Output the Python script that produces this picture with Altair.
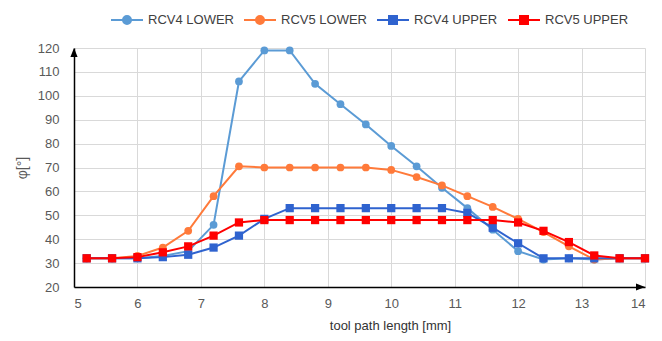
import altair as alt
import pandas as pd

# ---------------- data ----------------
x_vals = [5.2, 5.6, 6.0, 6.4, 6.8, 7.2, 7.6, 8.0, 8.4, 8.8, 9.2, 9.6, 10.0,
          10.4, 10.8, 11.2, 11.6, 12.0, 12.4, 12.8, 13.2, 13.6, 14.0]
rcv4_lower = [32, 32, 32, 33, 35, 46, 106, 119, 119, 105, 96.5, 88, 79,
              70.5, 61.5, 53, 44, 35, 31.5, 32, 31.5, 32, 32]
rcv5_lower = [32, 32, 33, 36.5, 43.5, 58, 70.5, 70, 70, 70, 70, 70, 69,
              66, 62.5, 58, 53.5, 48.5, 43, 37, 31.5, 32, 32]
rcv4_upper = [32, 32, 32, 32.5, 33.5, 36.5, 41.5, 48.5, 53, 53, 53, 53, 53,
              53, 53, 51, 44.8, 38.3, 32, 32, 32, 32, 32]
rcv5_upper = [32, 32, 32.5, 34.5, 37, 41.5, 47, 48, 48, 48, 48, 48, 48,
              48, 48, 48, 48, 47, 43.5, 38.8, 33.2, 32, 32]

series_names = ["RCV4 LOWER", "RCV5 LOWER", "RCV4 UPPER", "RCV5 UPPER"]
series_values = [rcv4_lower, rcv5_lower, rcv4_upper, rcv5_upper]
series_colors = ["#5B9BD5", "#FF7A3A", "#2F63CF", "#FF0000"]
series_shapes = ["circle", "circle", "square", "square"]
x_ticks = [5, 6, 7, 8, 9, 10, 11, 12, 13, 14]
y_ticks = [20, 30, 40, 50, 60, 70, 80, 90, 100, 110, 120]

LINE_CIRCLE = "M-1,0H1M-0.25,0A0.25,0.25,0,1,1,0.25,0A0.25,0.25,0,1,1,-0.25,0Z"
LINE_SQUARE = "M-1,0H1M-0.25,-0.25H0.25V0.25H-0.25Z"
legend_paths = [LINE_CIRCLE, LINE_CIRCLE, LINE_SQUARE, LINE_SQUARE]

rows = []
for name, vals in zip(series_names, series_values):
    for xv, yv in zip(x_vals, vals):
        rows.append({"x": xv, "y": yv, "series": name})
df = pd.DataFrame(rows)

FONT = "Liberation Sans"
W, H = 571, 239

xscale = alt.Scale(domain=[5, 14], nice=False, zero=False)
yscale = alt.Scale(domain=[20, 120], nice=False, zero=False)

xaxis = alt.Axis(values=x_ticks, ticks=False, labelPadding=10, labelFontSize=13,
                 labelColor="#595959", labelFont=FONT, grid=True, gridColor="#D9D9D9",
                 domainColor="#000000", domainWidth=1.5,
                 title="tool path length [mm]", titleFont=FONT, titleFontSize=13,
                 titleFontWeight="normal", titleColor="#333333", titlePadding=9,
                 titleX=316, titleAnchor="middle")
yaxis = alt.Axis(values=y_ticks, ticks=False, labelPadding=15, labelFontSize=13,
                 labelColor="#595959", labelFont=FONT, grid=True, gridColor="#D9D9D9",
                 domainColor="#000000", domainWidth=1.5,
                 title="φ[°]", titleFont=FONT, titleFontSize=14,
                 titleFontWeight="normal", titleColor="#595959", titlePadding=8)

X = alt.X("x:Q", scale=xscale, axis=xaxis)
Y = alt.Y("y:Q", scale=yscale, axis=yaxis)

base = alt.Chart(df)

# legend-only layer (its data is filtered away, so it draws no marks)
legend = alt.Legend(orient="none", legendX=36, legendY=-45, direction="horizontal",
                    title=None, symbolSize=1024, symbolStrokeWidth=2,
                    labelFont=FONT, labelFontSize=13, labelColor="#404040",
                    labelOffset=4, columnPadding=6)
legend_layer = base.transform_filter("false").mark_point(filled=True, opacity=1).encode(
    x=X, y=Y,
    color=alt.Color("series:N", scale=alt.Scale(domain=series_names, range=series_colors), legend=legend),
    stroke=alt.Stroke("series:N", scale=alt.Scale(domain=series_names, range=series_colors), legend=legend),
    shape=alt.Shape("series:N", scale=alt.Scale(domain=series_names, range=legend_paths), legend=legend),
)

layers = [legend_layer]
for name, shape, col in zip(series_names, series_shapes, series_colors):
    sub = base.transform_filter(alt.datum.series == name)
    layers.append(sub.mark_line(strokeWidth=2, color=col).encode(x=X, y=Y))
    layers.append(sub.mark_point(filled=True, opacity=1, shape=shape, color=col,
                                 size=60 if shape == "circle" else 68).encode(x=X, y=Y))

# axis arrowheads at the ends of the axes
arrow_up = alt.Chart(pd.DataFrame({"x": [5], "y": [120]})).mark_point(
    filled=True, color="#000000", opacity=1, size=324, shape="M0,0L-0.4,1L0.4,1Z").encode(x=X, y=Y)
arrow_right = alt.Chart(pd.DataFrame({"x": [14], "y": [20]})).mark_point(
    filled=True, color="#000000", opacity=1, size=324, shape="M0,0L-1,-0.4L-1,0.4Z").encode(x=X, y=Y)
layers += [arrow_up, arrow_right]

chart = alt.layer(*layers).properties(
    width=W, height=H,
    autosize=alt.AutoSizeParams(type="none"),
    padding={"left": 74, "top": 48, "right": 17, "bottom": 54},
    background="white",
).configure_view(stroke=None)

chart.save("out.html", embed_options={"renderer": "svg", "actions": False})
